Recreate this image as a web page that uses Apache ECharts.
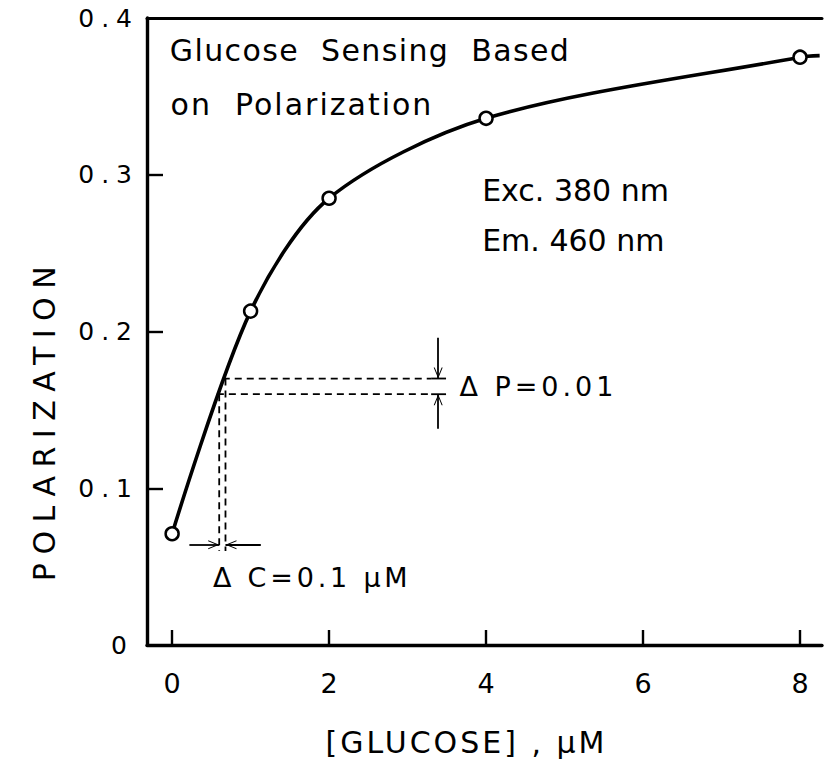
<!DOCTYPE html>
<html><head><meta charset="utf-8">
<script src="https://cdn.jsdelivr.net/npm/echarts@6/dist/echarts.min.js"></script>
<style>html,body{margin:0;padding:0;background:#fff}#c{width:825px;height:762px}</style>
</head><body><div id="c"></div>
<script>
const glucose = [0, 1, 2, 4, 8];
const polarization = [0.071, 0.213, 0.285, 0.336, 0.375];
const curveTail = [8.25, 0.376];
const xTicks = [0, 2, 4, 6, 8];
const yTicks = [0.1, 0.2, 0.3];
const yLabels = [0, 0.1, 0.2, 0.3, 0.4];
const deltaP = [0.16, 0.17];
const deltaC = [0.6, 0.68];

const FONT = 'DejaVu Sans';
const ink = '#000';
const chart = echarts.init(document.getElementById('c'), null, {renderer: 'svg'});

const points = glucose.map((g, i) => [g, polarization[i]]);
const curve = points.concat([curveTail]);

const dash = {color: ink, width: 1.8, type: [7, 5]};
const solid = {color: ink, width: 1.8};
function seg(a, b, style) {
  return {type: 'line', data: [a, b], symbol: 'none', silent: true, lineStyle: style, z: 3, animation: false};
}
// open "V" arrow head whose tip sits at the centre of the symbol box (upper half is an invisible dot)
const chevron = 'path://M0,0 L0.01,0 L0,0.01 Z M0,12 L6,24 L4.6,24 L0,14.8 L-4.6,24 L-6,24 Z';
function arrow(a, b) {
  return [{coord: a, symbol: 'none'}, {coord: b, symbol: chevron, symbolSize: [9, 22]}];
}
function textAt(x, y, text, size) {
  return {value: [x, y], label: {show: true, formatter: text, position: 'right', distance: 0,
    fontFamily: FONT, fontSize: size, color: ink}};
}

const arrowY = 0.064, arrowX = 3.39;
const series = [
  {type: 'line', data: curve, smooth: 0.3, symbol: 'none',
    lineStyle: {color: ink, width: 3.6}, z: 4, animation: false},
  {type: 'scatter', data: points, symbol: 'circle', symbolSize: 13,
    itemStyle: {color: '#fff', borderColor: ink, borderWidth: 2.5, opacity: 1}, z: 6, animation: false},
  seg([0.57, deltaP[0]], [3.3, deltaP[0]], dash),
  seg([0.645, deltaP[1]], [3.3, deltaP[1]], dash),
  seg([deltaC[0], deltaP[0]], [deltaC[0], 0.06], dash),
  seg([deltaC[1], deltaP[1]], [deltaC[1], 0.06], dash),
  seg([3.3, deltaP[0]], [3.49, deltaP[0]], solid),
  seg([3.3, deltaP[1]], [3.49, deltaP[1]], solid),
  {type: 'line', data: [], markLine: {silent: true, animation: false, lineStyle: {color: ink, width: 1.8, type: 'solid'},
    label: {show: false},
    data: [
      arrow([0.22, arrowY], [deltaC[0], arrowY]),
      arrow([1.13, arrowY], [deltaC[1], arrowY]),
      arrow([arrowX, 0.196], [arrowX, deltaP[1]]),
      arrow([arrowX, 0.138], [arrowX, deltaP[0]])
    ]}},
  {type: 'scatter', symbolSize: 0, silent: true, animation: false, z: 7, itemStyle: {opacity: 1}, data: [
    textAt(-0.03, 0.379, 'Glucose  Sensing  Based', 30),
    textAt(-0.02, 0.345, 'on  Polarization', 30),
    textAt(3.95, 0.29, 'Exc. 380 nm', 30),
    textAt(3.95, 0.258, 'Em. 460 nm', 30),
    textAt(3.66, 0.165, 'Δ P=0.01', 27),
    textAt(0.52, 0.043, 'Δ C=0.1 μM', 27)
  ]}
];

chart.setOption({
  animation: false,
  backgroundColor: '#fff',
  grid: {left: 147, right: 3, top: 18, bottom: 116, containLabel: false},
  xAxis: [{
    type: 'value', min: -0.32, max: 8.28,
    name: '[GLUCOSE] , μM', nameLocation: 'middle', nameGap: 82,
    nameTextStyle: {fontFamily: FONT, fontSize: 30, color: ink, padding: [0, 36, 0, 0]},
    axisLine: {show: true, onZero: false, lineStyle: {color: ink, width: 3.4}},
    axisTick: {show: true, inside: true, length: 15, lineStyle: {color: ink, width: 2.4}, customValues: xTicks},
    axisLabel: {show: true, margin: 25, fontFamily: FONT, fontSize: 27, color: ink, customValues: xTicks},
    splitLine: {show: false}
  }, {
    type: 'value', position: 'top', min: -0.32, max: 8.28,
    axisLine: {show: true, onZero: false, lineStyle: {color: ink, width: 3}},
    axisTick: {show: false}, axisLabel: {show: false}, splitLine: {show: false}
  }],
  yAxis: {
    type: 'value', min: 0, max: 0.4,
    name: 'POLARIZATION', nameLocation: 'middle', nameGap: 88,
    nameTextStyle: {fontFamily: FONT, fontSize: 30, color: ink, padding: [0, 176, 0, 0]},
    axisLine: {show: true, onZero: false, lineStyle: {color: ink, width: 3.4}},
    axisTick: {show: true, inside: true, length: 16, lineStyle: {color: ink, width: 2.4}, customValues: yTicks},
    axisLabel: {show: true, margin: 8, fontFamily: FONT, fontSize: 25, color: ink, customValues: yLabels,
      formatter: v => (v === 0 ? '0' : v.toFixed(1))},
    splitLine: {show: false}
  },
  series: series
});

// letter spacing to mimic the wide typewriter lettering of the original
const spacing = {
  'POLARIZATION': 8.5, '[GLUCOSE] , μM': 3, 'Glucose  Sensing  Based': 1.4,
  'on  Polarization': 2, 'Δ P=0.01': 4, 'Δ C=0.1 μM': 3.8,
  '0.1': 7, '0.2': 7, '0.3': 7, '0.4': 7
};
document.querySelectorAll('#c svg text').forEach(t => {
  const txt = t.textContent;
  const anchor = t.getAttribute('text-anchor') || (t.style && t.style.textAnchor) || '';
  if (txt === '0' && anchor === 'end') { t.style.letterSpacing = '12px'; return; }
  const s = spacing[txt];
  if (s) t.style.letterSpacing = s + 'px';
});
</script></body></html>
